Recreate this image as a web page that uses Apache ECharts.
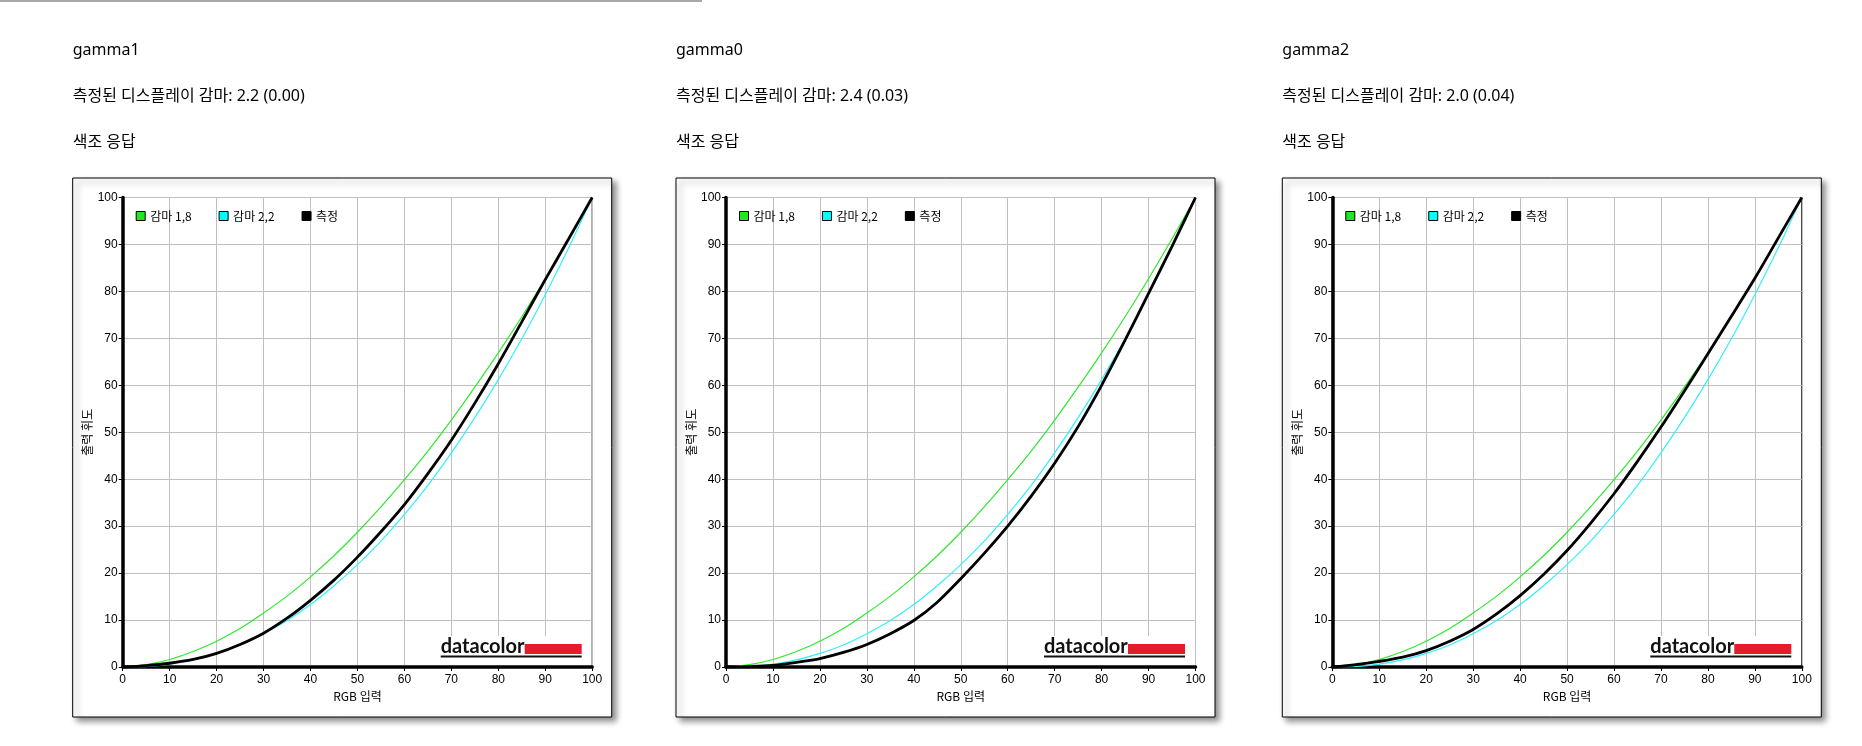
<!DOCTYPE html>
<html>
<head>
<meta charset="utf-8">
<title>색조 응답</title>
<script src="https://cdn.jsdelivr.net/npm/echarts@6/dist/echarts.min.js"></script>
<style>
  html, body { margin: 0; padding: 0; background: #fff; }
  #chart { width: 1862px; height: 746px; }
</style>
</head>
<body>
<div id="chart"></div>
<script>
// RGB 입력 (x축)
var rgbInput = [0, 5, 10, 15, 20, 25, 30, 35, 40, 45, 50, 55, 60, 65, 70, 75, 80, 85, 90, 95, 100];

// 기준 곡선
var gamma18 = [0, 0.5, 1.6, 3.3, 5.5, 8.2, 11.5, 15.1, 19.2, 23.7, 28.7, 34.1, 39.9, 46.0, 52.6, 59.6, 66.9, 74.6, 82.7, 91.2, 100];
var gamma22 = [0, 0.1, 0.6, 1.5, 2.9, 4.7, 7.1, 9.9, 13.3, 17.3, 21.8, 26.8, 32.5, 38.7, 45.6, 53.1, 61.2, 69.9, 79.3, 89.3, 100];

// 측정값
var measured1 = [0, 0.3, 0.8, 1.6, 2.9, 4.8, 7.2, 10.4, 14.2, 18.5, 23.4, 28.8, 34.6, 41.2, 48.3, 56.2, 64.6, 73.5, 82.5, 91.2, 100];
var measured0 = [0, 0.1, 0.35, 1.0, 1.8, 3.1, 4.8, 7.1, 9.9, 13.8, 18.8, 24.2, 30.0, 36.4, 43.4, 51.2, 60.0, 69.6, 79.6, 89.6, 100];
var measured2 = [0, 0.5, 1.2, 2.1, 3.5, 5.5, 8.0, 11.3, 15.2, 19.7, 24.8, 30.6, 36.9, 43.8, 51.1, 58.8, 66.7, 74.7, 82.8, 91.4, 100];

var panelNames = ['gamma1', 'gamma0', 'gamma2'];
var panelGamma = ['측정된 디스플레이 감마: 2.2 (0.00)', '측정된 디스플레이 감마: 2.4 (0.03)', '측정된 디스플레이 감마: 2.0 (0.04)'];
var panelMeasured = [measured1, measured0, measured2];
var legendNames = ['감마 1,8', '감마 2,2', '측정'];

var chart = echarts.init(document.getElementById('chart'));

var plotLeft = [122.7, 726, 1332.3],
  plotTop = 197.5,
  plotSize = 469.5,
  plotBottom = plotTop + plotSize;

var pageFont = '"Noto Sans", "Noto Sans CJK KR", sans-serif',
  tickFont = '"Liberation Sans", "Noto Sans CJK KR", sans-serif',
  krFont = '"Noto Sans CJK KR", sans-serif';

function pairs(arr) {
  return rgbInput.map(function (x, k) { return [x, arr[k]]; });
}

var titles = [], grids = [], xAxes = [], yAxes = [], legends = [], series = [];
var graphics = [
  { type: 'rect', z: -1, shape: { x: 0, y: 0, width: 702, height: 2 }, style: { fill: '#a8a8a8' } }
];

for (var i = 0; i < 3; i++) {
  var left = plotLeft[i];

  // 제목
  [panelNames[i], panelGamma[i], '색조 응답'].forEach(function (t, k) {
    titles.push({
      text: t,
      left: left - 50,
      top: 42 + k * 46,
      padding: 0,
      textStyle: { fontSize: 16, fontWeight: 'normal', color: '#000', fontFamily: pageFont }
    });
  });

  // 차트 테두리
  graphics.push({
    type: 'rect', z: -1,
    shape: { x: left - 50, y: 178, width: 539, height: 539 },
    style: {
      fill: '#fff', stroke: '#000', lineWidth: 1,
      shadowBlur: 6, shadowOffsetX: 4, shadowOffsetY: 4, shadowColor: 'rgba(0,0,0,0.45)'
    }
  });

  // datacolor 로고
  graphics.push(
    { type: 'rect', z: 1, shape: { x: left + 314, y: plotBottom - 31, width: 152, height: 29 }, style: { fill: '#fff' } },
    { type: 'rect', z: 1, shape: { x: left + 402, y: plotBottom - 23, width: 57, height: 10 }, style: { fill: '#e31c2a' } },
    { type: 'rect', z: 1, shape: { x: left + 318, y: plotBottom - 11.5, width: 141, height: 2 }, style: { fill: '#111' } },
    {
      type: 'text', z: 1, x: left + 318, y: plotBottom - 20.5,
      style: {
        text: 'datacolor', fill: '#111', fontSize: 20, fontWeight: 'bold',
        fontFamily: 'Lato', verticalAlign: 'middle'
      }
    }
  );

  grids.push({
    left: left, top: plotTop, width: plotSize, height: plotSize,
    show: true, borderColor: '#000', borderWidth: 1, backgroundColor: 'transparent'
  });

  xAxes.push({
    type: 'value', gridIndex: i, min: 0, max: 100, interval: 10,
    name: 'RGB 입력', nameLocation: 'middle', nameGap: 22,
    nameTextStyle: { fontSize: 12, color: '#000', fontFamily: krFont },
    axisLine: { show: true, onZero: false, lineStyle: { color: '#000', width: 3.5 } },
    axisTick: { show: true, length: 4, lineStyle: { color: '#000', width: 1 } },
    axisLabel: { margin: 7, fontSize: 12, color: '#000', fontFamily: tickFont, showMinLabel: true, showMaxLabel: true },
    splitLine: { show: true, lineStyle: { color: '#c0c0c0', width: 1 } }
  });

  yAxes.push({
    type: 'value', gridIndex: i, min: 0, max: 100, interval: 10,
    name: '출력 휘도', nameLocation: 'middle', nameGap: 29,
    nameTextStyle: { fontSize: 12, color: '#000', fontFamily: krFont },
    axisLine: { show: true, onZero: false, lineStyle: { color: '#000', width: 3.5 } },
    axisTick: { show: true, length: 4, lineStyle: { color: '#000', width: 1 } },
    axisLabel: { margin: 5, fontSize: 12, color: '#000', fontFamily: tickFont, showMinLabel: true, showMaxLabel: true },
    splitLine: { show: true, lineStyle: { color: '#c0c0c0', width: 1 } }
  });

  legends.push({
    data: legendNames,
    left: left + 13, top: 210, padding: 0,
    icon: 'rect', itemWidth: 9, itemHeight: 9, itemGap: 27,
    itemStyle: { borderColor: '#000', borderWidth: 1 },
    selectedMode: false,
    textStyle: { fontSize: 12, color: '#000', fontFamily: krFont }
  });

  series.push(
    {
      name: legendNames[0], type: 'line', xAxisIndex: i, yAxisIndex: i,
      data: pairs(gamma18), showSymbol: false, smooth: 0.3,
      color: '#22e622', lineStyle: { width: 1.2, color: '#2ee82e' }
    },
    {
      name: legendNames[1], type: 'line', xAxisIndex: i, yAxisIndex: i,
      data: pairs(gamma22), showSymbol: false, smooth: 0.3,
      color: '#00ffff', lineStyle: { width: 1.2, color: '#30f0ff' }
    },
    {
      name: legendNames[2], type: 'line', xAxisIndex: i, yAxisIndex: i,
      data: pairs(panelMeasured[i]), showSymbol: false, smooth: 0.3,
      color: '#000', lineStyle: { width: 2.8, color: '#000' }
    }
  );
}

chart.setOption({
  animation: false,
  title: titles,
  grid: grids,
  xAxis: xAxes,
  yAxis: yAxes,
  legend: legends,
  series: series,
  graphic: graphics
});
</script>
</body>
</html>
